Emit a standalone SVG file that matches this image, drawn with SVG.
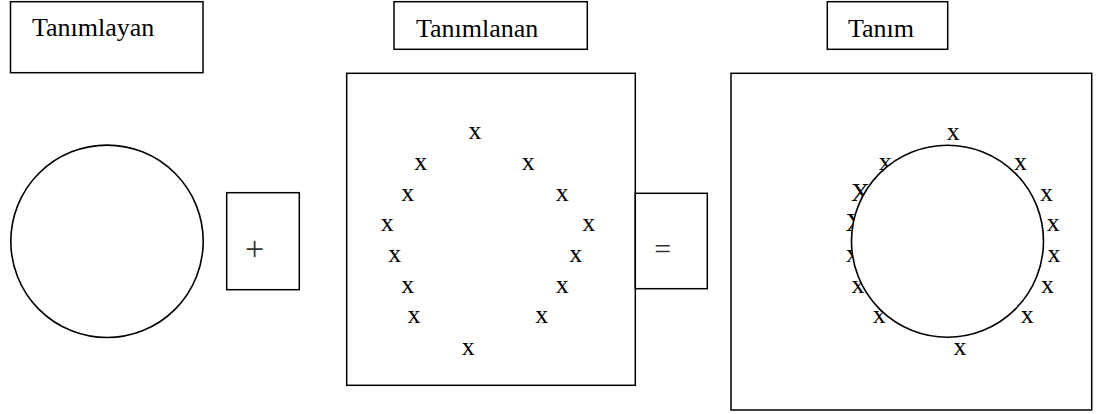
<svg xmlns="http://www.w3.org/2000/svg" width="1105" height="414" viewBox="0 0 1105 414">
<style>
  .box { fill: #fff; stroke: #000; stroke-width: 1.5; }
  .circ { fill: #fff; stroke: #000; stroke-width: 1.6; }
  .t { font-family: "Liberation Serif", "Times New Roman", serif; font-size: 26px; fill: #000; }
  .m { text-anchor: middle; }
  .op { font-family: "Liberation Serif", "Times New Roman", serif; fill: #333; text-anchor: middle; }
</style>
<rect width="1105" height="414" fill="#fff"/>
<g id="label-tanimlayan">
  <rect class="box" x="10.5" y="1.7" width="192.5" height="71"/>
  <text class="t" x="32" y="36">Tanımlayan</text>
</g>
<g id="label-tanimlanan">
  <rect class="box" x="394" y="1.7" width="193.3" height="47.6"/>
  <text class="t" x="416" y="37">Tanımlanan</text>
</g>
<g id="label-tanim">
  <rect class="box" x="827.3" y="1.7" width="120.4" height="47.6"/>
  <text class="t" x="848" y="36.7">Tanım</text>
</g>
<g id="circle-definer">
  <circle class="circ" cx="107" cy="241.3" r="96.2"/>
</g>
<g id="plus">
  <rect class="box" x="226.7" y="192.7" width="72.6" height="97"/>
  <text class="op" x="254.7" y="260" font-size="34">+</text>
</g>
<g id="defined-set">
  <rect class="box" x="346.7" y="73.3" width="288.6" height="312"/>
  <g class="t m">
    <text x="475" y="139.3">x</text>
    <text x="420.7" y="170">x</text>
    <text x="528.3" y="170">x</text>
    <text x="407.7" y="200.7">x</text>
    <text x="562.3" y="200.7">x</text>
    <text x="387.3" y="230.7">x</text>
    <text x="588.7" y="230.7">x</text>
    <text x="394.7" y="261.7">x</text>
    <text x="575.7" y="261.7">x</text>
    <text x="407.7" y="292.7">x</text>
    <text x="562.3" y="292.7">x</text>
    <text x="414" y="322.7">x</text>
    <text x="541.7" y="322.7">x</text>
    <text x="468.3" y="355">x</text>
  </g>
</g>
<g id="equals">
  <rect class="box" x="635.3" y="193.3" width="72" height="95.4"/>
  <text class="op" x="662.8" y="259" font-size="30">=</text>
</g>
<g id="definition">
  <rect class="box" x="731" y="73.3" width="360.7" height="336.7"/>
  <g class="t m">
    <text x="953.3" y="139.5">x</text>
    <text x="885.3" y="170">x</text>
    <text x="1020.5" y="170">x</text>
    <text x="860.5" y="200.5">X</text>
    <text x="1046.5" y="201">x</text>
    <text x="855" y="231">X</text>
    <text x="1053.3" y="231.3">x</text>
    <text x="852.5" y="261.7">x</text>
    <text x="1054" y="261.7">x</text>
    <text x="858" y="292.8">x</text>
    <text x="1047.5" y="292.8">x</text>
    <text x="879.3" y="323">x</text>
    <text x="1027.3" y="323">x</text>
    <text x="960" y="355">x</text>
  </g>
  <circle class="circ" cx="947.5" cy="241.2" r="96"/>
</g>
<g id="connectors"></g>
</svg>
